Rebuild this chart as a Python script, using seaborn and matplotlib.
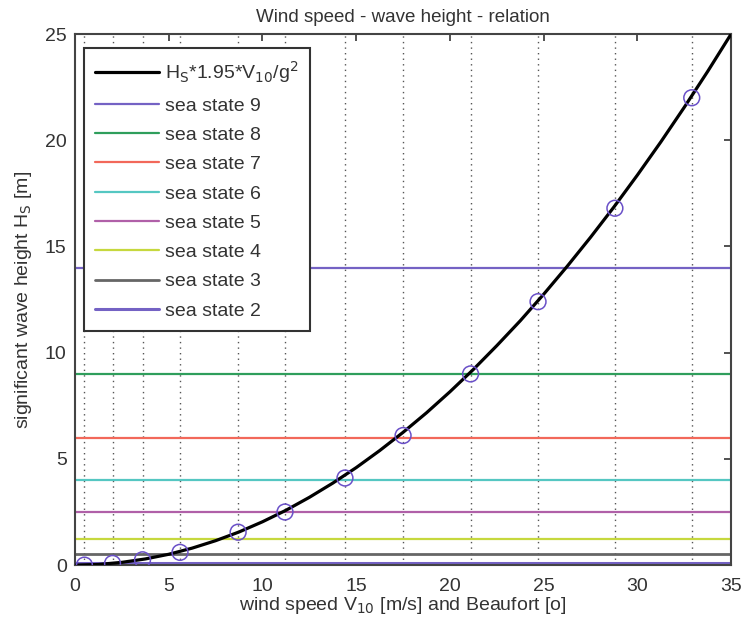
import numpy as np
import pandas as pd
import matplotlib
matplotlib.use("Agg")
import matplotlib.pyplot as plt
import seaborn as sns

# curve (wind speed m/s -> Hs m)
curva_v = [0, 1.25, 2.5, 3.75, 5, 6.25, 7.5, 8.75, 10, 11.25, 12.5, 13.75, 15,
           16.25, 17.5, 18.75, 20, 21.25, 22.5, 23.75, 25, 26.25, 27.5, 28.75,
           30, 31.25, 32.5, 33.75, 35]
curva_hs = [0, 0.03, 0.13, 0.29, 0.51, 0.8, 1.15, 1.56, 2.04, 2.58, 3.19, 3.86,
            4.59, 5.39, 6.25, 7.17, 8.16, 9.21, 10.33, 11.5, 12.75, 14.06, 15.43,
            16.86, 18.36, 19.92, 21.55, 23.24, 25.0]

# Beaufort points (circles + dotted verticals)
beaufort_v = [0.5, 2.0, 3.6, 5.6, 8.7, 11.2, 14.4, 17.5, 21.1, 24.7, 28.8, 32.9]
beaufort_hs = [0.0, 0.08, 0.25, 0.6, 1.55, 2.5, 4.1, 6.1, 9.0, 12.4, 16.8, 22.0]

# sea state limits
estados = ['sea state 9', 'sea state 8', 'sea state 7', 'sea state 6',
           'sea state 5', 'sea state 4', 'sea state 3', 'sea state 2']
estados_hs = [14, 9, 6, 4, 2.5, 1.25, 0.5, 0.1]
colores = ['#7462c4', '#2f9e5c', '#f2685a', '#55c7c2',
           '#b060a8', '#c6d83e', '#666666', '#7462c4']
grosores = [1.6, 1.6, 1.6, 1.6, 1.6, 1.6, 2.0, 2.2]

sns.set_style('white')
plt.rcParams['font.family'] = ['Liberation Sans', 'DejaVu Sans']

fig = plt.figure(figsize=(7.43, 6.3), dpi=100)
ax = fig.add_axes([0.101, 0.103, 0.883, 0.843])

# dotted verticals at Beaufort speeds
for v in beaufort_v:
    ax.axvline(v, color='#555555', linestyle=(0, (1, 3)), linewidth=1.0, zorder=1)

df_curva = pd.DataFrame({'v': curva_v, 'hs': curva_hs})
sns.lineplot(data=df_curva, x='v', y='hs', ax=ax, color='black', linewidth=2.3,
             label=r'H$_\mathrm{S}$*1.95*V$_\mathrm{10}$/g$^\mathrm{2}$', zorder=4)

for nombre, h, c, lw in zip(estados, estados_hs, colores, grosores):
    ax.axhline(h, color=c, linewidth=lw, label=nombre, zorder=2)

df_bf = pd.DataFrame({'v': beaufort_v, 'hs': beaufort_hs})
sns.scatterplot(data=df_bf, x='v', y='hs', ax=ax, marker='o', s=130,
                facecolors='none', edgecolor='#6a50c8', linewidth=1.1, zorder=5)

ax.set_xlim(0, 35)
ax.set_ylim(0, 25)
ax.set_xticks(range(0, 36, 5))
ax.set_yticks(range(0, 26, 5))
ax.tick_params(direction='in', length=5, width=1.2, top=True, right=True,
               labelsize=14, colors='#333333')
ax.tick_params(axis='x', pad=9)
ax.tick_params(axis='y', pad=6)
for s in ax.spines.values():
    s.set_color('#444444')
    s.set_linewidth(1.5)

ax.set_title('Wind speed - wave height - relation', fontsize=13.5, color='#333333', pad=9)
ax.set_xlabel(r'wind speed V$_\mathrm{10}$ [m/s] and Beaufort [o]', fontsize=14,
              color='#333333', labelpad=0)
ax.set_ylabel(r'significant wave height H$_\mathrm{S}$ [m]', fontsize=14,
              color='#333333', labelpad=8)

leg = ax.legend(loc='upper left', bbox_to_anchor=(0.013, 0.974), fontsize=14,
                frameon=True, fancybox=False, handlelength=3.3, handletextpad=0.3,
                labelspacing=0.6, borderpad=0.6, borderaxespad=0)
leg.get_frame().set_edgecolor('#333333')
leg.get_frame().set_linewidth(1.5)
leg.get_frame().set_alpha(1)
for t in leg.get_texts():
    t.set_color('#333333')

fig.savefig('out.png', dpi=100)
